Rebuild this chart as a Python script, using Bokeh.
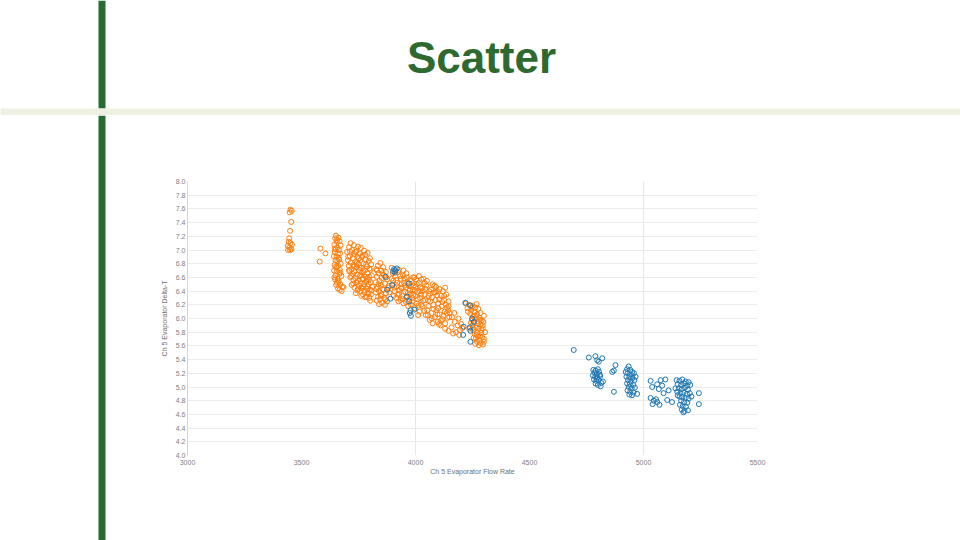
from bokeh.plotting import figure
from bokeh.layouts import row, column
from bokeh.models import Range1d, FixedTicker, NumeralTickFormatter
from bokeh.core.properties import value
from bokeh.embed import file_html
from bokeh.resources import INLINE

# ---------------- data ----------------
x_ticks = [3000, 3500, 4000, 4500, 5000, 5500]
y_ticks = [4.0, 4.2, 4.4, 4.6, 4.8, 5.0, 5.2, 5.4, 5.6, 5.8, 6.0,
           6.2, 6.4, 6.6, 6.8, 7.0, 7.2, 7.4, 7.6, 7.8, 8.0]
x_grid_ticks = [4000, 5000]

title_text = "Scatter"
x_label = "Ch 5 Evaporator Flow Rate"
y_label = "Ch 5 Evaporator Delta-T"

orange_x_a = [3452, 3457, 3448, 3455, 3450, 3446, 3444, 3452, 3458, 3440, 3447, 3441, 3450, 3456,
              3583, 3605, 3580]
orange_y_a = [7.59, 7.57, 7.55, 7.41, 7.28, 7.17, 7.12, 7.10, 7.08, 7.06, 7.04, 7.00, 7.00, 7.01,
              7.02, 6.95, 6.83]

orange_x_b = [3651, 3662, 3648, 3667, 3655, 3644, 3671, 3658, 3650, 3664, 3646, 3660, 3669, 3642,
              3654, 3665, 3649, 3657, 3672, 3645, 3661, 3653, 3668, 3643, 3656, 3666, 3650, 3675,
              3659, 3647, 3663, 3655, 3670, 3652, 3678, 3660,
              3656, 3646, 3664, 3652, 3670, 3644, 3661, 3676, 3684, 3668]
orange_y_b = [7.21, 7.18, 7.17, 7.13, 7.12, 7.08, 7.07, 7.04, 7.01, 7.00, 6.97, 6.95, 6.95, 6.91,
              6.90, 6.86, 6.85, 6.84, 6.80, 6.78, 6.77, 6.74, 6.71, 6.70, 6.69, 6.65, 6.63, 6.62,
              6.58, 6.57, 6.55, 6.52, 6.50, 6.49, 6.46, 6.44,
              7.15, 7.02, 6.88, 6.76, 6.67, 6.60, 6.53, 6.40, 6.46, 6.42]

orange_x_c = [3715, 3730, 3748, 3708, 3760, 3722, 3740, 3775, 3700, 3755, 3790, 3733, 3712, 3768,
              3745, 3800, 3725, 3782, 3703, 3758, 3738, 3795, 3716, 3772, 3750, 3728, 3805, 3786,
              3707, 3762, 3741, 3720, 3798, 3777, 3753, 3732, 3710, 3790, 3766, 3745, 3724, 3808,
              3781, 3757, 3736, 3714, 3796, 3770, 3748, 3728, 3803, 3785, 3760, 3740, 3720, 3795,
              3772, 3752, 3732, 3810, 3788, 3765, 3745, 3800, 3778, 3757, 3738, 3792, 3770, 3805,
              3785, 3762, 3798,
              3705, 3718, 3736, 3744, 3752, 3763, 3771, 3779, 3787, 3793, 3802, 3709, 3727, 3742,
              3758, 3765, 3774, 3783, 3797, 3806, 3713, 3731, 3747, 3755, 3769, 3789, 3801, 3780]
orange_y_c = [7.10, 7.07, 7.05, 7.04, 7.03, 7.00, 6.98, 6.99, 6.97, 6.95, 6.96, 6.94, 6.91, 6.92,
              6.90, 6.88, 6.88, 6.86, 6.85, 6.85, 6.83, 6.84, 6.81, 6.80, 6.80, 6.78, 6.79, 6.76,
              6.77, 6.74, 6.75, 6.72, 6.73, 6.70, 6.71, 6.68, 6.69, 6.66, 6.67, 6.64, 6.65, 6.63,
              6.61, 6.62, 6.59, 6.60, 6.57, 6.58, 6.55, 6.56, 6.53, 6.54, 6.51, 6.52, 6.49, 6.50,
              6.47, 6.48, 6.45, 6.46, 6.43, 6.44, 6.41, 6.42, 6.39, 6.40, 6.37, 6.38, 6.35, 6.35,
              6.32, 6.33, 6.30,
              6.90, 6.62, 6.97, 6.53, 6.88, 6.45, 6.69, 6.93, 6.58, 6.36, 6.71, 6.71, 6.51, 6.81,
              6.63, 6.90, 6.50, 6.79, 6.61, 6.41, 6.98, 6.76, 6.43, 6.74, 6.59, 6.47, 6.26, 6.31]

orange_x_d = [3846, 3835, 3858, 3828, 3850, 3870, 3838, 3862, 3830, 3852, 3875, 3842, 3826, 3866,
              3848, 3834, 3880, 3856, 3840, 3827, 3870, 3850, 3836, 3862, 3845, 3830, 3875, 3853,
              3840, 3866,
              3831, 3855, 3872, 3837, 3861, 3883, 3829, 3848, 3868, 3885]
orange_y_d = [6.81, 6.77, 6.75, 6.72, 6.70, 6.68, 6.66, 6.63, 6.61, 6.59, 6.57, 6.55, 6.53, 6.51,
              6.49, 6.46, 6.45, 6.43, 6.40, 6.38, 6.37, 6.35, 6.32, 6.30, 6.28, 6.26, 6.25, 6.23,
              6.21, 6.20,
              6.70, 6.66, 6.60, 6.50, 6.42, 6.48, 6.43, 6.33, 6.28, 6.38]

orange_x_e = [3895, 3910, 3902, 3925, 3918, 3935, 3908, 3945, 3928, 3950, 3940, 3915, 3962, 3955,
              3935, 3970, 3960, 3948, 3982, 3975, 3990, 3968, 3995, 4000, 3985, 4008, 3998, 4015,
              4020, 4005, 4028, 4018, 4035, 4040, 4030, 4048, 4045, 4055, 4060, 4052, 4062, 3900,
              3920, 3938, 3958, 3978, 3992, 4010, 4025, 4042, 3905, 3930, 3952, 3972, 3988, 4012,
              4032, 4058, 3898, 3925, 3965, 4002, 4038, 4050, 3942, 3980, 4022, 3912, 3960, 4015,
              3896, 3907, 3921, 3933, 3944, 3953, 3966, 3977, 3986, 3997, 4006, 4013, 4024, 4034,
              4043, 4057, 3916, 3937, 3958, 3979, 4000, 4019, 4040, 4054, 3927, 3947, 3990, 4026]
orange_y_e = [6.74, 6.62, 6.55, 6.68, 6.47, 6.58, 6.40, 6.63, 6.36, 6.52, 6.44, 6.30, 6.60, 6.39,
              6.27, 6.48, 6.31, 6.22, 6.55, 6.41, 6.34, 6.18, 6.60, 6.46, 6.25, 6.38, 6.15, 6.52,
              6.30, 6.22, 6.44, 6.10, 6.58, 6.35, 6.18, 6.48, 6.05, 6.26, 6.40, 6.12, 5.98, 6.66,
              6.52, 6.50, 6.45, 6.36, 6.48, 6.28, 6.20, 6.27, 6.33, 6.41, 6.58, 6.28, 6.42, 6.05,
              6.40, 6.33, 6.48, 6.25, 6.52, 6.57, 6.11, 6.55, 6.33, 6.20, 6.46, 6.70, 6.66, 6.62,
              6.58, 6.45, 6.35, 6.62, 6.29, 6.48, 6.37, 6.57, 6.30, 6.41, 6.50, 6.19, 6.35, 6.26,
              6.43, 6.18, 6.56, 6.45, 6.24, 6.47, 6.33, 6.40, 6.52, 6.05, 6.71, 6.70, 6.60, 6.57]

orange_x_f = [4075, 4090, 4068, 4105, 4082, 4120, 4095, 4072, 4112, 4135, 4088, 4125, 4100, 4145,
              4078, 4115, 4138, 4092, 4070, 4128, 4106, 4150, 4085, 4118, 4140, 4098, 4075, 4130,
              4110, 4088, 4130, 4100, 4145, 4065, 4122,
              4063, 4079, 4094, 4104, 4117, 4133, 4143, 4084, 4096, 4111, 4126, 4148, 4071, 4103, 4137,
              4160, 4172, 4185, 4158, 4195, 4178, 4165, 4200, 4145, 4130, 4188, 4205, 4170, 4192]
orange_y_f = [6.50, 6.46, 6.42, 6.43, 6.38, 6.40, 6.34, 6.31, 6.33, 6.35, 6.27, 6.27, 6.22, 6.25,
              6.20, 6.18, 6.16, 6.12, 6.08, 6.10, 6.06, 6.08, 6.02, 5.99, 6.01, 5.95, 5.93, 5.93,
              5.90, 6.38, 6.45, 6.15, 6.18, 6.25, 6.04,
              6.36, 6.14, 6.40, 6.28, 6.24, 6.20, 6.12, 6.48, 6.06, 5.97, 6.33, 6.02, 6.00, 5.92, 6.08,
              6.02, 5.95, 5.90, 5.87, 5.83, 5.80, 5.78, 5.92, 5.82, 5.85, 6.00, 5.86, 6.08, 5.76]

orange_x_g = [4220, 4235, 4250, 4228, 4262, 4245, 4275, 4258, 4240, 4270, 4285, 4252, 4265, 4280,
              4248, 4290, 4258, 4272, 4285, 4250, 4265, 4278, 4295, 4255, 4270, 4288, 4260, 4275,
              4292, 4265, 4280, 4300, 4270, 4286, 4262, 4296, 4278, 4230, 4243, 4300, 4305, 4236,
              4255, 4298, 4268,
              4246, 4260, 4282, 4295, 4252, 4268, 4284, 4300, 4274, 4289]
orange_y_g = [6.22, 6.20, 6.18, 6.15, 6.16, 6.12, 6.14, 6.09, 6.07, 6.06, 6.08, 6.03, 6.00, 6.01,
              5.98, 5.97, 5.95, 5.93, 5.91, 5.90, 5.87, 5.85, 5.86, 5.83, 5.80, 5.79, 5.77, 5.74,
              5.73, 5.71, 5.69, 5.70, 5.66, 5.64, 5.63, 5.62, 5.61, 6.10, 5.94, 6.04, 5.80, 5.85,
              5.72, 5.95, 6.21,
              6.16, 6.04, 5.98, 5.90, 5.86, 5.76, 5.74, 5.66, 5.96, 5.83]

blue_x_mid = [3906, 3912, 3918, 3910, 3902, 3898, 3876, 3868, 3890, 3971, 3963, 3972, 3978, 3975,
              3980, 4219, 4241, 4248, 4256, 4211, 4238, 4241, 4209, 4241, 3995]
blue_y_mid = [6.72, 6.70, 6.73, 6.67, 6.69, 6.49, 6.42, 6.61, 6.29, 6.51, 6.32, 6.25, 6.12, 6.08,
              6.04, 6.23, 6.19, 6.00, 5.95, 5.88, 5.87, 5.82, 5.76, 5.66, 6.13]

blue_x_r1 = [4694, 4760, 4789, 4797, 4819, 4804, 4780, 4790, 4800, 4785, 4795, 4805, 4778, 4788,
             4798, 4810, 4783, 4793, 4803, 4815, 4790, 4800, 4812, 4795, 4808, 4822, 4870, 4877,
             4863, 4870]
blue_y_r1 = [5.54, 5.43, 5.45, 5.39, 5.42, 5.37, 5.25, 5.24, 5.26, 5.21, 5.19, 5.22, 5.17, 5.15,
             5.14, 5.16, 5.11, 5.09, 5.10, 5.06, 5.05, 5.03, 5.01, 5.12, 5.18, 5.08, 5.24, 5.32,
             5.22, 4.93]

blue_x_r2 = [4935, 4928, 4942, 4950, 4930, 4945, 4958, 4925, 4938, 4952, 4932, 4946, 4960, 4928,
             4940, 4955, 4935, 4948, 4962, 4930, 4942, 4956, 4938, 4950, 4972, 4965, 4922]
blue_y_r2 = [5.30, 5.26, 5.25, 5.22, 5.20, 5.18, 5.20, 5.15, 5.14, 5.13, 5.10, 5.08, 5.10, 5.05,
             5.04, 5.03, 5.00, 4.98, 4.99, 4.95, 4.93, 4.92, 4.89, 4.88, 4.90, 5.15, 5.22]

blue_x_r3 = [5031, 5075, 5096, 5038, 5067, 5060, 5031, 5045, 5060, 5040, 5055, 5070, 5104, 5125,
             5140, 5088, 5110, 5082,
             5145, 5158, 5170, 5185, 5198, 5150, 5165, 5178, 5192, 5205, 5155, 5168, 5182, 5195,
             5148, 5162, 5175, 5190, 5203, 5158, 5170, 5185, 5198, 5165, 5178, 5192, 5160, 5172,
             5186, 5168, 5180, 5195, 5175, 5243, 5243, 5150, 5210]
blue_y_r3 = [5.09, 5.10, 5.11, 5.00, 4.97, 5.04, 4.84, 4.80, 4.78, 4.75, 4.82, 4.74, 4.81, 4.78,
             4.98, 4.91, 4.95, 5.02,
             5.10, 5.09, 5.11, 5.08, 5.07, 5.04, 5.03, 5.05, 5.02, 5.03, 4.98, 4.97, 4.99, 4.96,
             4.93, 4.91, 4.92, 4.90, 4.91, 4.86, 4.85, 4.84, 4.83, 4.80, 4.78, 4.77, 4.74, 4.72,
             4.71, 4.67, 4.65, 4.66, 4.63, 4.91, 4.75, 4.88, 4.86]

orange_x = orange_x_a + orange_x_b + orange_x_c + orange_x_d + orange_x_e + orange_x_f + orange_x_g
orange_y = orange_y_a + orange_y_b + orange_y_c + orange_y_d + orange_y_e + orange_y_f + orange_y_g
blue_x = blue_x_mid + blue_x_r1 + blue_x_r2 + blue_x_r3
blue_y = blue_y_mid + blue_y_r1 + blue_y_r2 + blue_y_r3

# ---------------- styling ----------------
ORANGE = "#ff7f0e"
BLUE = "#1f77b4"
GREEN_BAR = "#2b6a31"
GREEN_TITLE = "#2e6a30"
BAND = "#eef0e2"
FONT = "Liberation Sans"

LEFT_W = 150      # width of the left slide strip below the header
HEAD_H = 115      # height of the slide header
PAGE_W, PAGE_H = 960, 540


def blank(width, height, x0, x1, y0, y1):
    f = figure(width=width, height=height, output_backend="svg", toolbar_location=None,
               title_location=None,
               x_range=Range1d(x0, x1), y_range=Range1d(y1, y0),
               x_axis_type=None, y_axis_type=None,
               min_border=0, min_border_left=0, min_border_right=0,
               min_border_top=0, min_border_bottom=0)
    f.outline_line_color = None
    f.background_fill_color = "white"
    f.border_fill_color = "white"
    f.grid.visible = False
    return f


# header: title, green bar and the light band across the whole slide
head = blank(PAGE_W, HEAD_H, 0, PAGE_W, 0, HEAD_H)
head.quad(left=[98], right=[105], top=[0], bottom=[108], fill_color=GREEN_BAR, line_color=None)
head.quad(left=[0], right=[PAGE_W], top=[108], bottom=[HEAD_H], fill_color=BAND, line_color=None)
head.text(x=[481], y=[57], text=[title_text], text_font=value(FONT), text_font_style="bold",
          text_font_size="44px", text_color=GREEN_TITLE, text_align="center",
          text_baseline="alphabetic")

# left strip below the header: the green bar continues
left = blank(LEFT_W, PAGE_H - HEAD_H, 0, LEFT_W, HEAD_H, PAGE_H)
left.quad(left=[98], right=[105], top=[HEAD_H], bottom=[PAGE_H], fill_color=GREEN_BAR, line_color=None)

# the chart
p = figure(width=PAGE_W - LEFT_W, height=PAGE_H - HEAD_H, output_backend="svg",
           toolbar_location=None,
           x_range=Range1d(3000, 5500), y_range=Range1d(4.0, 8.0),
           min_border_left=37, min_border_right=203, min_border_top=66, min_border_bottom=85)
p.outline_line_color = None
p.background_fill_color = "white"
p.border_fill_color = "white"

for ax in (p.xaxis[0], p.yaxis[0]):
    ax.major_tick_line_color = None
    ax.minor_tick_line_color = None
    ax.major_tick_out = 0
    ax.major_tick_in = 0
    ax.minor_tick_out = 0
    ax.major_label_text_font = FONT
    ax.major_label_text_font_size = "7px"
    ax.major_label_text_color = "#808080"
    ax.axis_label_text_font = FONT
    ax.axis_label_text_font_size = "7px"
    ax.axis_label_text_font_style = "normal"
    ax.axis_label_text_color = "#707070"

p.xaxis.ticker = FixedTicker(ticks=x_ticks)
p.yaxis.ticker = FixedTicker(ticks=y_ticks)
p.yaxis.formatter = NumeralTickFormatter(format="0.0")
p.xaxis.axis_label = x_label
p.yaxis.axis_label = y_label
p.xaxis.axis_line_color = None
p.yaxis.axis_line_color = "#d6d6d6"
p.xaxis.major_label_standoff = 4
p.xaxis.axis_label_standoff = 0
p.yaxis.major_label_standoff = 2
p.yaxis.axis_label_standoff = 5

p.xgrid.ticker = FixedTicker(ticks=x_grid_ticks)
p.xgrid.grid_line_color = "#e6e6e6"
p.ygrid.grid_line_color = "#ececec"

p.scatter(orange_x, orange_y, marker="circle", size=5, fill_color=None,
          line_color=ORANGE, line_width=1)
p.scatter(blue_x, blue_y, marker="circle", size=5, fill_color=None,
          line_color=BLUE, line_width=1)

layout = column(head, row(column(left), p))
open("out.html", "w").write(file_html(layout, INLINE))
